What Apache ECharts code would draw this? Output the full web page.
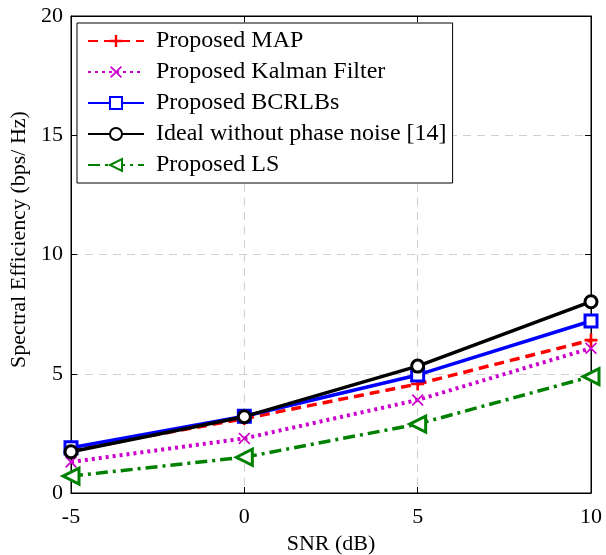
<!DOCTYPE html>
<html><head><meta charset="utf-8">
<script src="https://cdn.jsdelivr.net/npm/echarts@6/dist/echarts.min.js"></script>
<style>html,body{margin:0;padding:0;background:#fff}#c{width:606px;height:555px}</style>
</head><body><div id="c"></div>
<script>
const snr = [-5, 0, 5, 10];
const mapVals = [1.80, 3.12, 4.57, 6.41];
const kalmanVals = [1.30, 2.29, 3.90, 6.07];
const bcrlbVals = [1.90, 3.22, 4.95, 7.21];
const idealVals = [1.73, 3.20, 5.32, 8.02];
const lsVals = [0.71, 1.50, 2.89, 4.88];
const names = ['Proposed MAP', 'Proposed Kalman Filter', 'Proposed BCRLBs', 'Ideal without phase noise [14]', 'Proposed LS'];

const font = 'Liberation Serif';
const plusPath = 'path://M4,0H6V4H10V6H6V10H4V6H0V4H4Z';
const xPath = 'path://M1,0L5,4L9,0L10,1L6,5L10,9L9,10L5,6L1,10L0,9L4,5L0,1Z';
function pts(v){ return snr.map((x,i)=>[x, v[i]]); }

const tick = {inside: true, length: 6, lineStyle: {color: '#000'}};
const chart = echarts.init(document.getElementById('c'));
chart.setOption({
  animation: false,
  backgroundColor: '#fff',
  grid: {left: 71, right: 15, top: 16, bottom: 62, show: true, borderColor: '#000', borderWidth: 1,
         outerBoundsMode: 'none', containLabel: false},
  legend: {
    orient: 'vertical', left: 77, top: 23,
    backgroundColor: '#fff', borderColor: '#000', borderWidth: 1,
    padding: [6, 6, 6, 10], itemGap: 7, itemWidth: 56, itemHeight: 15,
    textStyle: {fontFamily: font, fontSize: 24, color: '#000', padding: [0, 0, 0, 7]},
    data: names
  },
  xAxis: [{
    type: 'value', min: -5, max: 10, interval: 5,
    name: 'SNR (dB)', nameLocation: 'middle', nameGap: 39,
    nameTextStyle: {fontFamily: font, fontSize: 22, color: '#000'},
    axisLine: {onZero: false, lineStyle: {color: '#000'}},
    axisTick: tick,
    axisLabel: {fontFamily: font, fontSize: 22, color: '#000', margin: 13},
    splitLine: {show: true, lineStyle: {color: '#d0d0d0', type: [8, 6]}}
  }, {
    type: 'value', min: -5, max: 10, interval: 5, position: 'top',
    axisLine: {onZero: false, lineStyle: {color: '#000'}},
    axisTick: tick, axisLabel: {show: false}, splitLine: {show: false}
  }],
  yAxis: [{
    type: 'value', min: 0, max: 20, interval: 5,
    name: 'Spectral Efficiency (bps/ Hz)', nameLocation: 'middle', nameGap: 41,
    nameTextStyle: {fontFamily: font, fontSize: 22, color: '#000', padding: [0, 0, 0, 30]},
    axisLine: {onZero: false, lineStyle: {color: '#000'}},
    axisTick: tick,
    axisLabel: {fontFamily: font, fontSize: 22, color: '#000', margin: 8},
    splitLine: {show: true, lineStyle: {color: '#d0d0d0', type: [8, 6]}}
  }, {
    type: 'value', min: 0, max: 20, interval: 5, position: 'right',
    axisLine: {onZero: false, lineStyle: {color: '#000'}},
    axisTick: tick, axisLabel: {show: false}, splitLine: {show: false}
  }],
  series: [
    {name: names[0], type: 'line', data: pts(mapVals), symbol: plusPath, symbolSize: 13,
     itemStyle: {color: '#ff0000', borderWidth: 0}, lineStyle: {color: '#ff0000', width: 3.5, type: [10, 6]}, z: 3},
    {name: names[1], type: 'line', data: pts(kalmanVals), symbol: xPath, symbolSize: 12,
     itemStyle: {color: '#cc00cc', borderWidth: 0}, lineStyle: {color: '#cc00cc', width: 4, type: [3, 4]}, z: 2},
    {name: names[2], type: 'line', data: pts(bcrlbVals), symbol: 'rect', symbolSize: 12,
     itemStyle: {color: '#fff', borderColor: '#0000ff', borderWidth: 3}, lineStyle: {color: '#0000ff', width: 3.5}, z: 4},
    {name: names[3], type: 'line', data: pts(idealVals), symbol: 'circle', symbolSize: 12,
     itemStyle: {color: '#fff', borderColor: '#000', borderWidth: 3}, lineStyle: {color: '#000', width: 3.5}, z: 5},
    {name: names[4], type: 'line', data: pts(lsVals), symbol: 'triangle', symbolRotate: 90, symbolSize: 16,
     itemStyle: {color: '#fff', borderColor: '#008000', borderWidth: 3}, lineStyle: {color: '#008000', width: 3.5, type: [12, 5, 3, 5]}, z: 2}
  ]
});
</script></body></html>
